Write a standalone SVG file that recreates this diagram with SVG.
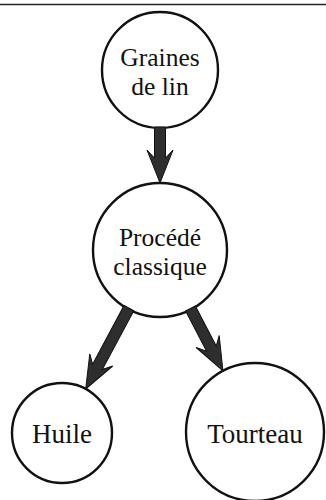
<svg xmlns="http://www.w3.org/2000/svg" width="326" height="500" viewBox="0 0 326 500">
<style>
.node circle{fill:#fff;stroke:#111;stroke-width:2.4}
.node text{font-family:"Liberation Serif","Times New Roman",serif;font-size:26px;fill:#111;text-anchor:middle}
.arrow{fill:#2e2e2e;stroke:#111;stroke-width:1;stroke-linejoin:miter}
</style>
<rect width="326" height="500" fill="#fff"/>
<line x1="0" y1="4.5" x2="326" y2="4.5" stroke="#222" stroke-width="1.5"/>
<g id="n-graines" class="node">
<circle cx="160" cy="70" r="58"/>
<text x="160" y="66" style="font-size:25.5px">Graines</text>
<text x="160" y="94.5" style="font-size:25.5px">de lin</text>
</g>
<g id="n-procede" class="node">
<circle cx="160" cy="250" r="67"/>
<text x="160" y="246" style="font-size:25.5px">Procédé</text>
<text x="160" y="274.5" style="font-size:25.5px">classique</text>
</g>
<g id="n-huile" class="node">
<circle cx="62" cy="433" r="50"/>
<text x="62" y="443" style="font-size:27px">Huile</text>
</g>
<g id="n-tourteau" class="node">
<circle cx="255" cy="432" r="69"/>
<text x="255" y="443" style="font-size:27px">Tourteau</text>
</g>
<g id="connectors">
<path class="arrow" transform="translate(160,127) rotate(90)" d="M0,-5.5 L31,-5.5 L23,-13 L56,0 L23,13 L31,5.5 L0,5.5 Z"/>
<path class="arrow" transform="translate(128.9,308.1) rotate(118.1)" d="M0,-5.5 L66.7,-5.5 L58.7,-13 L91.7,0 L58.7,13 L66.7,5.5 L0,5.5 Z"/>
<path class="arrow" transform="translate(190.5,308.5) rotate(62.5)" d="M0,-5.5 L45.2,-5.5 L37.2,-13 L70.2,0 L37.2,13 L45.2,5.5 L0,5.5 Z"/>
</g>
</svg>
